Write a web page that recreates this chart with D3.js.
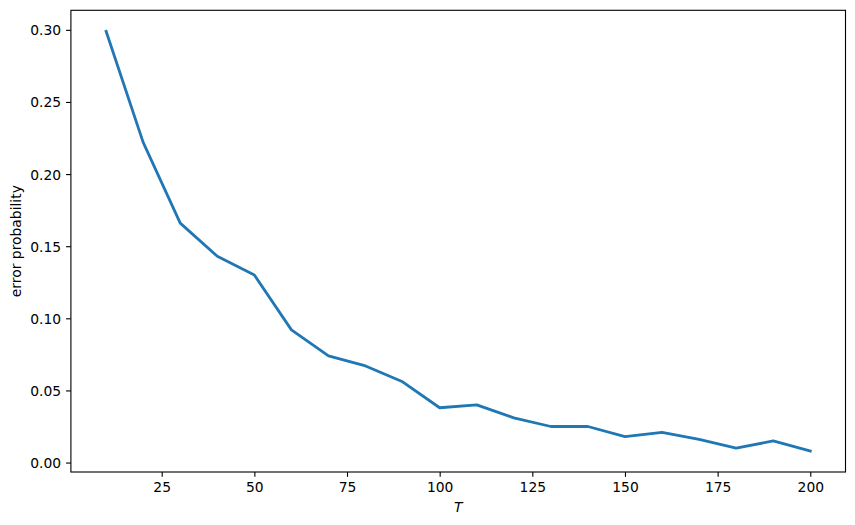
<!DOCTYPE html>
<html>
<head>
<meta charset="utf-8">
<script src="https://cdn.jsdelivr.net/npm/d3@7"></script>
<style>
    body { margin: 0; background: #fff; }
    svg { display: block; }
    text { font-family: "DejaVu Sans", sans-serif; }
</style>
</head>
<body>
<div id="main"></div>
<script>
// T values and the measured error probability
const T_VALUES = [10, 20, 30, 40, 50, 60, 70, 80, 90, 100, 110, 120, 130, 140, 150, 160, 170, 180, 190, 200];
const ERROR_PROB = [0.299, 0.222, 0.166, 0.143, 0.130, 0.092, 0.074, 0.067, 0.056, 0.038,
                    0.040, 0.031, 0.025, 0.025, 0.018, 0.021, 0.016, 0.010, 0.015, 0.008];
const X_TICKS = [25, 50, 75, 100, 125, 150, 175, 200];
const Y_TICKS = [0.00, 0.05, 0.10, 0.15, 0.20, 0.25, 0.30];

const ctx = {
    SVG_W: 855,
    SVG_H: 525,
    left: 70.9,
    right: 845.5,
    top: 10.3,
    bottom: 472,
    fontSize: 13.89,
    tickLen: 4.86,
    tickPad: 4.86,
};

function createViz() {
    let svgEl = d3.select("#main").append("svg")
        .attr("width", ctx.SVG_W)
        .attr("height", ctx.SVG_H);

    // matplotlib style 5% margins around the data
    let xMin = d3.min(T_VALUES), xMax = d3.max(T_VALUES);
    let yMin = d3.min(ERROR_PROB), yMax = d3.max(ERROR_PROB);
    let xm = (xMax - xMin) * 0.05, ym = (yMax - yMin) * 0.05;

    let x = d3.scaleLinear().domain([xMin - xm, xMax + xm]).range([ctx.left, ctx.right]);
    let y = d3.scaleLinear().domain([yMin - ym, yMax + ym]).range([ctx.bottom, ctx.top]);

    // line
    let line = d3.line()
        .x(function (d, i) { return x(T_VALUES[i]); })
        .y(function (d) { return y(d); });

    svgEl.append("path")
        .datum(ERROR_PROB)
        .attr("d", line)
        .attr("fill", "none")
        .attr("stroke", "#1f77b4")
        .attr("stroke-width", 2.78)
        .attr("stroke-linejoin", "round")
        .attr("stroke-linecap", "square");

    // x axis
    let xAxis = d3.axisBottom(x)
        .tickValues(X_TICKS)
        .tickSize(ctx.tickLen)
        .tickPadding(ctx.tickPad)
        .tickFormat(d3.format("d"));
    let gx = svgEl.append("g")
        .attr("transform", "translate(0," + ctx.bottom + ")")
        .call(xAxis);

    // y axis
    let yAxis = d3.axisLeft(y)
        .tickValues(Y_TICKS)
        .tickSize(ctx.tickLen)
        .tickPadding(ctx.tickPad)
        .tickFormat(d3.format(".2f"));
    let gy = svgEl.append("g")
        .attr("transform", "translate(" + ctx.left + ",0)")
        .call(yAxis);

    [gx, gy].forEach(function (g) {
        g.select(".domain").remove();
        g.selectAll(".tick line").attr("stroke", "#000").attr("stroke-width", 1.11);
        g.selectAll(".tick text")
            .attr("fill", "#000")
            .style("font-size", ctx.fontSize + "px")
            .style("font-family", "'DejaVu Sans', sans-serif");
    });
    gx.selectAll(".tick text").attr("dy", null).attr("y", ctx.tickLen + ctx.tickPad)
        .attr("dominant-baseline", "hanging");
    gy.selectAll(".tick text").attr("dy", "0.36em");

    // frame
    svgEl.append("rect")
        .attr("x", ctx.left)
        .attr("y", ctx.top)
        .attr("width", ctx.right - ctx.left)
        .attr("height", ctx.bottom - ctx.top)
        .attr("fill", "none")
        .attr("stroke", "#000")
        .attr("stroke-width", 1.11);

    // axis labels
    svgEl.append("text")
        .attr("x", (ctx.left + ctx.right) / 2)
        .attr("y", 511.7)
        .attr("text-anchor", "middle")
        .style("font-size", ctx.fontSize + "px")
        .style("font-style", "italic")
        .text("T");

    svgEl.append("text")
        .attr("transform", "translate(20.5," + ((ctx.top + ctx.bottom) / 2) + ") rotate(-90)")
        .attr("text-anchor", "middle")
        .style("font-size", ctx.fontSize + "px")
        .text("error probability");
}

createViz();
</script>
</body>
</html>
